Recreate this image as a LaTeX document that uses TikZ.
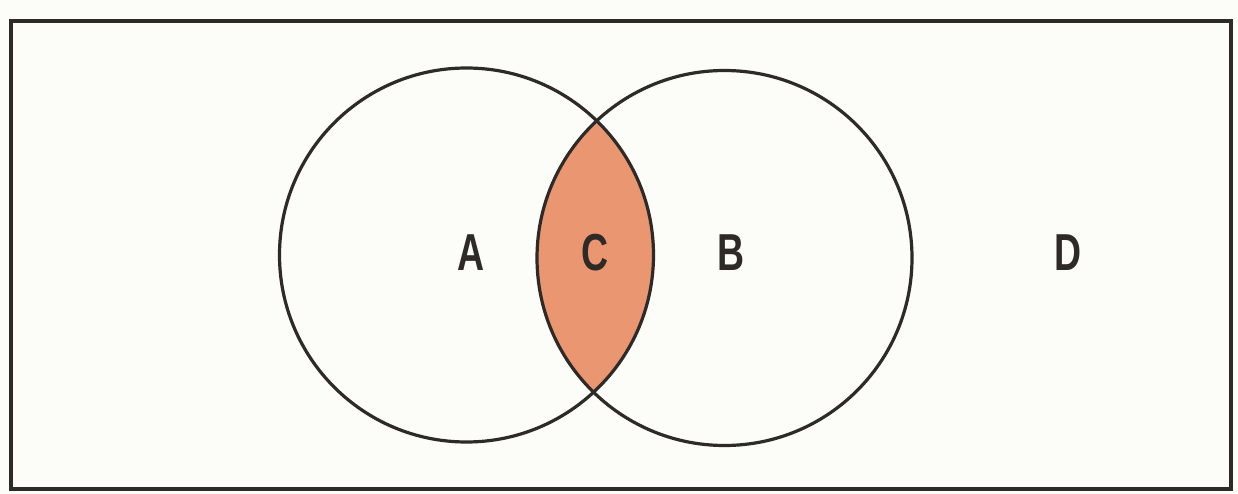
\documentclass[tikz,border=0pt]{standalone}
\usepackage{fontspec}
\setmainfont{Liberation Sans}
\definecolor{paper}{RGB}{252,252,248}
\definecolor{ink}{RGB}{45,42,40}
\definecolor{lens}{RGB}{234,150,112}
\begin{document}
\begin{tikzpicture}[x=1pt,y=-1pt,
  line/.style={draw=ink,line width=3.2pt},
  lbl/.style={font=\fontsize{52}{52}\selectfont\bfseries,text=ink,xscale=0.72,inner sep=0pt}]
\fill[paper] (0,0) rectangle (1238,494);
\useasboundingbox (0,0) rectangle (1238,494);
\coordinate (ca) at (466.5,255);
\coordinate (cb) at (724.5,258);
\begin{scope}
  \clip (ca) circle (187);
  \fill[lens] (cb) circle (187.5);
\end{scope}
\draw[line] (11,21) rectangle (1231,489);
\draw[line] (ca) circle (187);
\draw[line] (cb) circle (187.5);
\node[lbl] (A) at (471,253) {A};
\node[lbl] (C) at (595,253) {C};
\node[lbl] (B) at (731,253) {B};
\node[lbl] (D) at (1068,253) {D};
\end{tikzpicture}
\end{document}
